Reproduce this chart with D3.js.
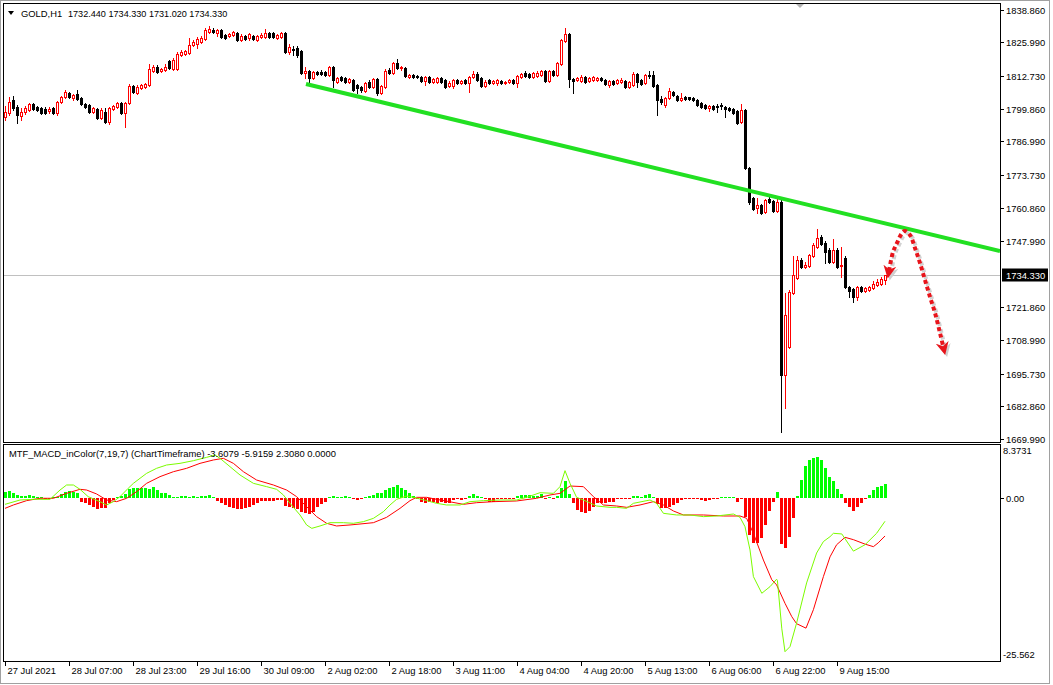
<!DOCTYPE html>
<html><head><meta charset="utf-8">
<script src="https://cdn.jsdelivr.net/npm/d3@7"></script>
<style>
html,body{margin:0;padding:0;background:#fff;}
svg{display:block;font-family:"Liberation Sans",Arial,sans-serif;}
</style></head><body>
<svg id="c" width="1053" height="685"></svg>
<script>
// ---------- DATA (GOLD H1, 221 bars) ----------
const open=[
1796.6,1798.2,1803.3,1800.6,1797.0,1798.6,1799.4,1801.7,1800.6,1800.2,
1799.8,1799.0,1800.2,1798.2,1802.5,1804.5,1806.1,1804.1,1805.7,1804.1,
1801.7,1801.3,1798.6,1799.8,1796.2,1798.6,1794.7,1799.8,1800.6,1802.1,
1798.2,1802.1,1808.8,1806.1,1808.0,1808.4,1809.2,1814.7,1816.3,1814.7,
1815.1,1818.6,1815.5,1815.5,1821.0,1821.4,1821.8,1824.9,1825.3,1826.1,
1827.3,1830.0,1830.8,1829.7,1830.8,1828.9,1828.5,1828.9,1829.7,1826.9,
1828.5,1827.7,1828.5,1826.9,1828.1,1828.1,1829.7,1829.7,1827.7,1828.1,
1829.7,1822.2,1823.4,1823.8,1822.6,1813.9,1814.7,1811.9,1814.3,1814.3,
1814.3,1813.1,1816.3,1810.4,1812.4,1812.0,1810.4,1811.2,1809.2,1808.4,
1806.9,1810.4,1808.4,1811.6,1806.1,1808.4,1815.1,1813.9,1817.9,1815.9,
1815.9,1812.4,1813.1,1812.8,1812.4,1810.8,1812.4,1810.4,1810.4,1812.0,
1811.2,1808.8,1808.8,1811.2,1810.0,1811.2,1810.0,1812.4,1813.5,1812.0,
1808.8,1811.2,1810.0,1810.0,1810.8,1810.0,1810.4,1811.2,1810.0,1812.4,
1813.9,1813.5,1812.4,1812.8,1813.1,1814.7,1810.8,1814.7,1813.1,1817.5,
1826.5,1829.3,1811.6,1811.2,1810.8,1812.4,1810.8,1811.2,1811.2,1812.0,
1811.2,1809.2,1810.8,1810.0,1810.4,1810.8,1808.4,1809.2,1813.5,1811.2,
1810.0,1813.1,1813.1,1809.2,1803.7,1801.3,1804.1,1806.5,1804.9,1803.3,
1804.5,1804.5,1804.1,1803.3,1802.1,1801.3,1800.2,1800.9,1800.9,1801.3,
1800.6,1800.2,1799.8,1799.0,1794.7,1799.4,1776.6,1764.8,1760.9,1762.0,
1759.3,1764.4,1763.6,1759.7,1763.2,1695.2,1706.2,1727.4,1733.3,1740.4,
1737.6,1738.0,1742.0,1745.5,1749.4,1747.1,1744.3,1739.6,1744.3,1738.0,
1741.2,1729.8,1729.0,1725.9,1729.8,1728.2,1728.6,1729.4,1730.6,1731.0,
1732.44];
const high=[
1800.9,1804.5,1804.9,1801.3,1800.2,1800.9,1802.1,1802.1,1800.9,1800.6,
1800.6,1800.6,1800.6,1802.9,1804.9,1807.2,1806.5,1805.7,1807.2,1804.5,
1802.1,1801.7,1800.6,1800.2,1800.2,1800.2,1800.6,1801.3,1802.5,1802.5,
1802.5,1809.6,1809.2,1809.2,1809.6,1810.0,1817.5,1817.1,1817.1,1815.9,
1817.5,1819.0,1819.8,1822.2,1823.0,1823.0,1827.7,1826.9,1828.1,1828.5,
1831.6,1832.4,1831.6,1831.2,1831.2,1829.3,1829.7,1830.4,1830.0,1829.3,
1828.9,1829.7,1828.9,1828.9,1829.7,1831.2,1830.0,1830.0,1829.3,1830.0,
1830.0,1825.3,1824.5,1824.5,1823.0,1816.3,1815.1,1814.7,1814.7,1815.1,
1814.7,1816.7,1816.7,1812.4,1812.8,1812.4,1812.0,1811.6,1809.6,1808.8,
1810.4,1811.2,1812.0,1812.0,1809.2,1815.5,1815.9,1818.3,1819.4,1816.7,
1816.3,1813.5,1813.5,1813.1,1812.8,1812.8,1812.8,1812.0,1812.4,1812.4,
1811.6,1810.8,1811.6,1811.6,1811.2,1811.6,1812.8,1814.7,1814.3,1812.4,
1811.2,1811.6,1811.2,1811.6,1811.2,1810.8,1811.6,1811.6,1813.1,1813.9,
1814.7,1813.9,1814.3,1814.7,1815.1,1815.1,1815.1,1815.1,1818.3,1827.3,
1831.6,1829.7,1812.0,1812.4,1813.1,1812.8,1812.4,1812.8,1812.4,1812.4,
1811.6,1811.2,1811.2,1811.6,1812.0,1811.2,1810.8,1814.3,1813.9,1811.6,
1813.5,1814.7,1814.7,1809.6,1804.9,1804.5,1808.0,1806.9,1805.3,1806.1,
1804.9,1804.5,1804.5,1803.7,1802.5,1801.7,1801.3,1801.3,1801.7,1802.1,
1800.9,1800.6,1800.2,1799.4,1801.7,1799.8,1777.0,1765.2,1764.8,1762.4,
1764.4,1765.2,1764.0,1764.4,1764.0,1727.4,1728.6,1741.9,1742.0,1741.2,
1739.6,1742.8,1747.1,1752.6,1750.2,1747.9,1745.1,1748.7,1745.1,1745.5,
1742.0,1730.2,1729.4,1730.2,1730.2,1729.8,1730.2,1732.1,1732.9,1733.7,
1734.33];
const low=[
1795.4,1797.4,1799.4,1794.3,1795.4,1797.8,1799.0,1799.4,1799.0,1797.8,
1797.8,1798.2,1797.8,1797.4,1802.1,1804.1,1804.1,1803.3,1803.3,1801.3,
1800.2,1798.2,1798.2,1795.8,1795.8,1794.3,1793.9,1799.4,1800.2,1797.8,
1792.7,1801.7,1806.1,1805.7,1807.6,1808.0,1808.8,1814.3,1813.9,1814.3,
1814.7,1815.5,1815.1,1815.1,1820.6,1821.0,1821.4,1824.5,1823.8,1825.7,
1826.9,1829.7,1829.7,1828.5,1827.7,1827.3,1828.1,1828.5,1826.5,1826.5,
1826.9,1826.9,1826.9,1826.5,1827.7,1827.7,1827.7,1827.7,1827.3,1827.7,
1821.8,1821.4,1821.0,1820.2,1813.5,1811.9,1810.0,1811.6,1813.1,1813.1,
1812.7,1812.7,1808.4,1810.0,1810.8,1810.0,1810.0,1806.9,1806.1,1806.5,
1806.5,1808.0,1808.0,1805.3,1805.7,1808.0,1813.5,1813.5,1815.5,1815.1,
1812.4,1812.0,1812.0,1812.0,1810.4,1809.2,1810.0,1810.0,1810.0,1810.0,
1808.0,1808.4,1808.0,1809.6,1809.6,1809.6,1806.5,1812.0,1810.8,1808.4,
1808.4,1809.6,1809.6,1809.2,1809.6,1809.6,1810.0,1809.6,1808.4,1812.0,
1812.4,1812.0,1812.0,1812.4,1812.8,1810.4,1810.4,1812.8,1812.8,1817.1,
1826.1,1808.4,1806.1,1810.8,1810.4,1810.0,1810.4,1810.8,1810.8,1810.8,
1809.2,1808.4,1809.2,1809.6,1810.0,1808.0,1808.0,1808.8,1808.4,1809.2,
1809.6,1812.0,1808.4,1797.4,1801.7,1800.6,1803.7,1804.9,1802.9,1802.9,
1803.3,1803.3,1802.9,1800.9,1800.2,1799.8,1799.0,1799.4,1798.6,1799.8,
1796.6,1799.0,1797.8,1793.9,1794.3,1776.2,1762.4,1760.1,1758.9,1758.5,
1758.9,1762.8,1759.3,1759.3,1672.8,1682.2,1705.8,1727.0,1732.9,1737.2,
1737.2,1737.6,1741.6,1745.1,1746.3,1739.2,1739.2,1739.2,1737.2,1733.7,
1729.4,1725.9,1723.9,1724.7,1727.8,1727.8,1728.2,1729.0,1730.2,1730.6,
1731.02];
const close=[
1798.6,1802.5,1800.2,1797.4,1798.6,1800.2,1801.7,1799.8,1799.4,1798.2,
1798.2,1799.8,1798.2,1802.5,1804.5,1806.5,1804.5,1805.3,1803.7,1801.7,
1800.6,1798.6,1800.2,1796.2,1799.4,1794.7,1800.2,1800.9,1802.1,1798.2,
1802.1,1808.8,1806.5,1808.4,1809.2,1809.6,1815.5,1816.3,1814.3,1815.5,
1816.3,1815.9,1819.0,1821.4,1822.2,1822.6,1824.9,1826.1,1827.3,1827.7,
1830.8,1831.2,1830.0,1830.8,1828.1,1827.7,1829.3,1830.0,1826.9,1828.5,
1827.3,1829.3,1827.3,1828.5,1828.9,1829.7,1828.1,1828.1,1828.9,1829.7,
1822.2,1824.2,1823.0,1821.0,1813.9,1814.7,1811.9,1814.3,1813.5,1813.5,
1813.1,1816.3,1811.2,1812.0,1811.2,1810.4,1811.6,1807.2,1808.0,1807.2,
1810.0,1808.4,1811.6,1806.1,1808.8,1814.7,1813.9,1817.9,1815.9,1816.3,
1812.8,1813.1,1812.4,1812.4,1810.8,1812.4,1810.4,1811.6,1812.0,1810.4,
1808.4,1810.0,1811.2,1810.0,1810.8,1810.0,1812.4,1813.5,1811.2,1808.8,
1810.4,1810.0,1810.8,1811.2,1810.0,1810.4,1811.2,1810.0,1812.8,1813.5,
1812.8,1812.4,1813.9,1813.9,1814.7,1810.8,1814.7,1813.1,1817.9,1826.9,
1829.3,1811.6,1810.8,1812.0,1812.4,1810.4,1812.0,1812.4,1812.0,1811.2,
1809.6,1810.8,1809.6,1811.2,1811.2,1808.4,1810.4,1813.5,1810.4,1809.6,
1813.1,1812.8,1808.8,1803.3,1802.5,1804.1,1806.9,1805.3,1803.3,1804.1,
1803.7,1803.7,1803.3,1801.3,1800.6,1800.2,1800.9,1799.8,1800.6,1800.9,
1799.8,1799.4,1798.2,1794.3,1799.4,1776.6,1763.2,1760.4,1762.0,1758.9,
1764.0,1763.2,1759.7,1763.2,1695.2,1718.8,1727.8,1734.5,1740.4,1737.6,
1738.4,1742.4,1746.3,1749.1,1746.7,1743.5,1739.6,1744.3,1737.6,1738.4,
1729.8,1728.2,1725.9,1729.8,1728.2,1729.4,1729.8,1731.0,1731.7,1732.9,
1734.33];

// MACD histogram (one per bar)
const macdHist=[
1.05,1.2,0.78,0.52,0.36,0.36,0.52,0.36,0.26,0.15,
-0.1,-0.05,0.15,0.26,0.68,1.05,1.2,1.05,0.78,-0.52,
-0.79,-1.05,-1.31,-1.73,-1.57,-1.57,-0.79,-0.26,0.26,0.36,
0.68,1.41,1.57,1.68,1.57,1.57,1.41,1.83,1.31,0.89,
0.78,0.52,0.26,0.26,0.36,0.36,0.26,0.36,0.26,0.36,
0.36,0.52,0.26,-0.42,-0.79,-1.05,-1.31,-1.57,-1.68,-1.68,
-1.57,-1.31,-1.05,-0.68,-0.42,-0.42,-0.37,-0.42,-0.26,-0.26,
-1.2,-1.31,-1.57,-1.73,-2.09,-2.36,-2.46,-2.09,-1.31,-0.94,
-0.52,0.26,0.36,0.26,0.26,0.36,0.15,-0.16,-0.26,-0.16,
0.15,0.36,0.52,0.78,0.78,1.31,1.57,1.83,2.09,1.68,
1.31,0.89,0.36,-0.16,-0.52,-0.68,-0.52,-0.52,-0.68,-0.52,
-0.68,-0.68,
-0.26,-0.16,-0.26,-0.05,0.36,0.68,0.36,0.15,-0.16,-0.52,
-0.52,-0.16,-0.05,-0.16,-0.05,-0.05,0.36,0.52,0.52,0.52,
0.36,0.36,0.68,-0.05,0.05,-0.05,0.36,1.57,2.77,0.68,
-0.79,-1.83,-2.09,-2.36,-1.94,-1.41,-0.79,-0.68,-0.68,-0.58,
-0.58,-0.16,-0.05,-0.16,-0.05,0.36,0.36,0.15,0.52,0.68,
0.02,-0.89,-1.57,-1.57,-1.31,-1.05,-0.68,-0.26,-0.16,-0.05,
-0.05,-0.16,-0.26,-0.37,-0.26,-0.16,-0.05,0.05,0.15,0.1,
0.02,-0.52,-0.05,-2.88,-5.76,-7.07,-6.96,-6.18,-4.19,-1.94,
-0.63,1.05,-7.2,-7.75,-6.02,-3.04,0.42,2.88,5.08,6.02,
6.28,6.54,6.02,4.82,3.4,2.72,1.47,0.68,-0.79,-1.41,
-1.94,-1.41,-0.79,-0.1,0.52,1.31,1.73,1.99,2.31];

// MACD main line (green) read at bar positions
const macdIdx=[0,3.75,7.1,11.25,13.75,15.4,17.1,18.75,20.8,23.75,25.4,27.1,28.75,30.8,32.1,33.75,35.4,37.9,40.4,43.75,47.1,50.4,52.5,53.75,56.25,58.75,62.1,65.4,67.9,69.6,71.25,73.75,75.4,76.7,78.75,81.25,84.6,87.1,89.6,92.1,94.6,96.25,97.9,100.4,102.1,105.4,107.9,110.4,
113.75,116.25,119.6,123.75,127.9,130.4,133.75,137.1,138.75,140,141.25,142.9,144.6,147.9,151.25,152.9,155.4,157.1,161.25,162.9,164.6,167.9,171.25,174.6,177.9,182.1,183.75,185,186.25,187.1,189.2,191.25,192.9,
193.1,194.2,195,196.25,197.9,200.4,202.9,204.6,206.25,207.1,209.2,212.1,215,217.9,220];
const macdVal=[-0.95,-0.27,-0.16,-0.16,1.30,2.09,2.09,1.41,0.26,-0.53,-1.05,-0.53,0.26,1.57,2.35,3.14,3.92,4.71,5.23,5.49,5.91,6.43,6.80,6.28,4.97,3.66,2.35,1.83,1.41,0.52,-0.79,-2.62,-4.19,-4.72,-4.35,-3.83,-3.83,-3.93,-3.67,-3.15,-2.10,-1.05,-0.16,0.36,0.15,-0.37,-0.79,-1.05,
-1.05,-0.53,-0.37,-0.27,-0.27,0.15,0.88,0.78,1.83,4.34,2.35,0.15,-0.27,-1.21,-1.42,-1.42,-1.58,-0.79,-0.27,-0.79,-2.36,-2.62,-2.62,-2.88,-2.78,-2.47,-2.99,-4.46,-8.11,-12.3,-14.92,-13.88,-12.72,
-12.9,-20.5,-24.1,-23.3,-19.6,-13.3,-8.6,-6.8,-6.03,-5.5,-5.6,-8.3,-7.3,-5.5,-3.61];

// Signal line (red)
const signalIdx=[0,2.1,5.4,8.75,12.1,15.4,18.75,20.4,22.9,25.4,27.9,30.4,32.9,35.4,38.75,42.1,45.4,48.75,52.1,54.6,57.1,59.6,62.9,67.1,70.4,72.9,75.4,77.9,80.4,82.9,86.25,88.75,92.1,95.4,98.75,101.25,102.9,105.4,107.9,110.4,
114.6,117.9,122.1,127.9,132.9,136.25,138.75,141.25,144.6,147.1,149.6,152.9,155.4,158.75,162.1,164.6,167.1,169.6,174.6,179.6,183.75,
185.4,187.1,189.6,191.7,192.9,195,196.7,197.9,200.25,202.1,204.6,206.25,207.9,210,212.1,215,217.1,218.3,220];
const signalVal=[-1.58,-1.05,-0.37,0,0,0.78,1.41,1.30,0.68,-0.27,-0.53,0,1.04,2.35,3.40,4.18,4.71,5.49,6.02,6.28,5.49,4.18,2.87,2.09,1.30,0.26,-1.31,-2.88,-3.93,-4.35,-4.19,-4.04,-3.83,-2.99,-1.58,-0.37,0.15,0.15,-0.16,-0.45,
-0.95,-0.69,-0.53,-0.42,0,0.52,0.78,1.93,1.83,0.26,-1.05,-1.21,-1.42,-1.05,-0.53,-1.05,-1.99,-2.62,-2.62,-2.78,-2.78,
-3.14,-5.5,-9.7,-12.8,-13.6,-16.5,-18.6,-19.7,-20.4,-17.5,-12.3,-9.2,-7.3,-6.13,-6.5,-7.2,-7.6,-7.0,-5.92];

// axis tick labels
const priceTicks=["1838.860","1825.990","1812.730","1799.860","1786.990","1773.730","1760.860","1747.990","1721.860","1708.990","1695.730","1682.860","1669.990"];
const timeTickIdx=[0,16,32,48,64,80,96,112,128,144,160,176,192,208];
const timeTickLabels=["27 Jul 2021","28 Jul 07:00","28 Jul 23:00","29 Jul 16:00","30 Jul 09:00","2 Aug 02:00","2 Aug 18:00","3 Aug 11:00","4 Aug 04:00","4 Aug 20:00","5 Aug 13:00","6 Aug 06:00","6 Aug 22:00","9 Aug 15:00"];
const lastPrice=1734.33;
const titleOHLC="1732.440 1734.330 1731.020 1734.330";
const macdTitle="MTF_MACD_inColor(7,19,7) (ChartTimeframe) -3.6079 -5.9159 2.3080 0.0000";
const macdMax=8.3731, macdMin=-25.562;

// annotations (bar index, price)
const trendIdx=[75.25,248.75], trendPrice=[1809.6,1743.9];
const arrowIdx=[221,222,223,224.25,225,226.25,227.5,228.75,230,231.25,232.5,233.75,234.6];
const arrowPrice=[1736.1,1743.5,1747.1,1751.0,1751.8,1750.2,1745.1,1739.2,1732.5,1725.9,1719.6,1711.7,1706.0];

// ---------- DRAW ----------
const FS="9.4px";
const svg=d3.select('#c');
const x=d3.scaleLinear().domain([0,220]).range([5,885]);
const y=d3.scaleLinear().domain([1669.99,1838.86]).range([439,9.6]);
const ym=d3.scaleLinear().domain([macdMin,macdMax]).range([661,445]);

svg.append('rect').attr('width',1053).attr('height',685).attr('fill','#fff');
svg.append('rect').attr('x',0.5).attr('y',0.5).attr('width',1049).attr('height',683)
  .attr('fill','none').attr('stroke','#a0a0a0');

const defs=svg.append('defs');
defs.append('clipPath').attr('id','clipMain').append('rect').attr('x',4).attr('y',4).attr('width',996).attr('height',438);
defs.append('clipPath').attr('id','clipMacd').append('rect').attr('x',4).attr('y',445).attr('width',996).attr('height',216);
function marker(id,col){
  defs.append('marker').attr('id',id).attr('viewBox','0 0 10 10').attr('refX',4).attr('refY',5)
    .attr('markerWidth',13).attr('markerHeight',13).attr('markerUnits','userSpaceOnUse')
    .attr('orient','auto-start-reverse')
    .append('path').attr('d','M0,0 L10,5 L0,10 L3,5 Z').attr('fill',col);
}
marker('ah','#e8141b'); marker('ahs','#cfcfcf');

const gm=svg.append('g').attr('clip-path','url(#clipMain)');
const yl=Math.round(y(lastPrice))+0.5;
gm.append('line').attr('x1',3).attr('x2',1000).attr('y1',yl).attr('y2',yl).attr('stroke','#c0c0c0');

const bars=d3.range(open.length).map(i=>({i,o:open[i],h:high[i],l:low[i],c:close[i]}));
const cand=gm.append('g').selectAll('g').data(bars).join('g');
cand.append('line')
  .attr('x1',d=>Math.round(x(d.i))+0.5).attr('x2',d=>Math.round(x(d.i))+0.5)
  .attr('y1',d=>Math.round(y(d.h))).attr('y2',d=>Math.round(y(d.l))+1)
  .attr('stroke',d=>d.c>=d.o?'#ff0000':'#000');
cand.each(function(d){
  const g=d3.select(this);
  const cx=Math.round(x(d.i));
  const yt=Math.round(y(Math.max(d.o,d.c))), yb=Math.round(y(Math.min(d.o,d.c)));
  if(d.c>=d.o){
    if(yb-yt<1) g.append('rect').attr('x',cx-1).attr('y',yt).attr('width',3).attr('height',1).attr('fill','#ff0000');
    else g.append('rect').attr('x',cx-0.5).attr('y',yt+0.5).attr('width',2).attr('height',yb-yt)
      .attr('fill','#fff').attr('stroke','#ff0000').attr('stroke-width',1);
  } else {
    g.append('rect').attr('x',cx-1).attr('y',yt).attr('width',3).attr('height',Math.max(1,yb-yt+1)).attr('fill','#000');
  }
});

const tl=d3.line().x(d=>x(d[0])).y(d=>y(d[1]));
gm.append('path').attr('d',tl(d3.zip(trendIdx,trendPrice)))
  .attr('stroke','#22e022').attr('stroke-width',4).attr('fill','none');

const al=d3.line().x(d=>x(d[0])).y(d=>y(d[1])).curve(d3.curveCatmullRom);
const apts=d3.zip(arrowIdx,arrowPrice);
svg.append('path').attr('d',al(apts)).attr('transform','translate(2,2)')
  .attr('stroke','#d2d2d2').attr('stroke-width',4).attr('stroke-dasharray','4 3').attr('fill','none')
  .attr('marker-start','url(#ahs)').attr('marker-end','url(#ahs)');
svg.append('path').attr('d',al(apts))
  .attr('stroke','#e8141b').attr('stroke-width',4).attr('stroke-dasharray','4 3').attr('fill','none')
  .attr('marker-start','url(#ah)').attr('marker-end','url(#ah)');

svg.append('rect').attr('x',3.5).attr('y',3.5).attr('width',997).attr('height',439).attr('fill','none').attr('stroke','#000');
svg.append('rect').attr('x',3.5).attr('y',444.5).attr('width',997).attr('height',217).attr('fill','none').attr('stroke','#000');

svg.append('path').attr('d','M796,4 L804,4 L800,8 Z').attr('fill','#b4b4b4');

svg.append('path').attr('d','M8,11 L14,11 L11,15 Z').attr('fill','#000');
svg.append('text').attr('x',21).attr('y',16.5).attr('font-size',FS).attr('fill','#000').text('GOLD,H1');
svg.append('text').attr('x',68).attr('y',16.5).attr('font-size','9.1px').attr('fill','#000').text(titleOHLC);

const pa=svg.append('g');
priceTicks.forEach(t=>{
  const yy=Math.round(y(+t))+0.5;
  pa.append('line').attr('x1',1000).attr('x2',1004).attr('y1',yy).attr('y2',yy).attr('stroke','#000');
  pa.append('text').attr('x',1006).attr('y',yy).attr('dy','0.35em').attr('font-size',FS).attr('fill','#000').text(t);
});
pa.append('rect').attr('x',1002).attr('y',yl-7).attr('width',46).attr('height',13).attr('fill','#000');
pa.append('text').attr('x',1006).attr('y',yl).attr('dy','0.35em').attr('font-size',FS).attr('fill','#fff').text(lastPrice.toFixed(3));

const gh=svg.append('g').attr('clip-path','url(#clipMacd)');
const y0=Math.round(ym(0));
gh.selectAll('rect').data(macdHist.map((v,i)=>({i,v}))).join('rect')
  .attr('x',d=>Math.round(x(d.i))-1).attr('width',3)
  .attr('y',d=>d.v>=0?Math.min(Math.round(ym(d.v)),y0-1):y0)
  .attr('height',d=>Math.max(1,Math.abs(Math.round(ym(d.v))-y0)))
  .attr('fill',d=>d.v>=0?'#00ff00':'#ff0000');
const ml=d3.line().x(d=>x(d[0])).y(d=>ym(d[1]));
gh.append('path').attr('d',ml(d3.zip(signalIdx,signalVal))).attr('stroke','#ff0000').attr('stroke-width',1).attr('fill','none');
gh.append('path').attr('d',ml(d3.zip(macdIdx,macdVal))).attr('stroke','#7cfc00').attr('stroke-width',1).attr('fill','none');

svg.append('text').attr('x',9).attr('y',457).attr('font-size',FS).attr('fill','#000').text(macdTitle);
svg.append('text').attr('x',1003).attr('y',ym(macdMax)+6).attr('dy','0.35em').attr('font-size',FS).text(macdMax.toFixed(4));
svg.append('line').attr('x1',1000).attr('x2',1004).attr('y1',y0+0.5).attr('y2',y0+0.5).attr('stroke','#000');
svg.append('text').attr('x',1006).attr('y',y0+0.5).attr('dy','0.35em').attr('font-size',FS).text('0.00');
svg.append('text').attr('x',1003).attr('y',ym(macdMin)-6).attr('dy','0.35em').attr('font-size',FS).text(macdMin.toFixed(3));

const ta=svg.append('g');
timeTickIdx.forEach((j,k)=>{
  const xx=Math.round(x(j))+0.5;
  ta.append('line').attr('x1',xx).attr('x2',xx).attr('y1',662).attr('y2',666).attr('stroke','#000');
  ta.append('text').attr('x',xx+2).attr('y',674).attr('font-size',FS).attr('fill','#000').text(timeTickLabels[k]);
});
</script>
</body></html>
